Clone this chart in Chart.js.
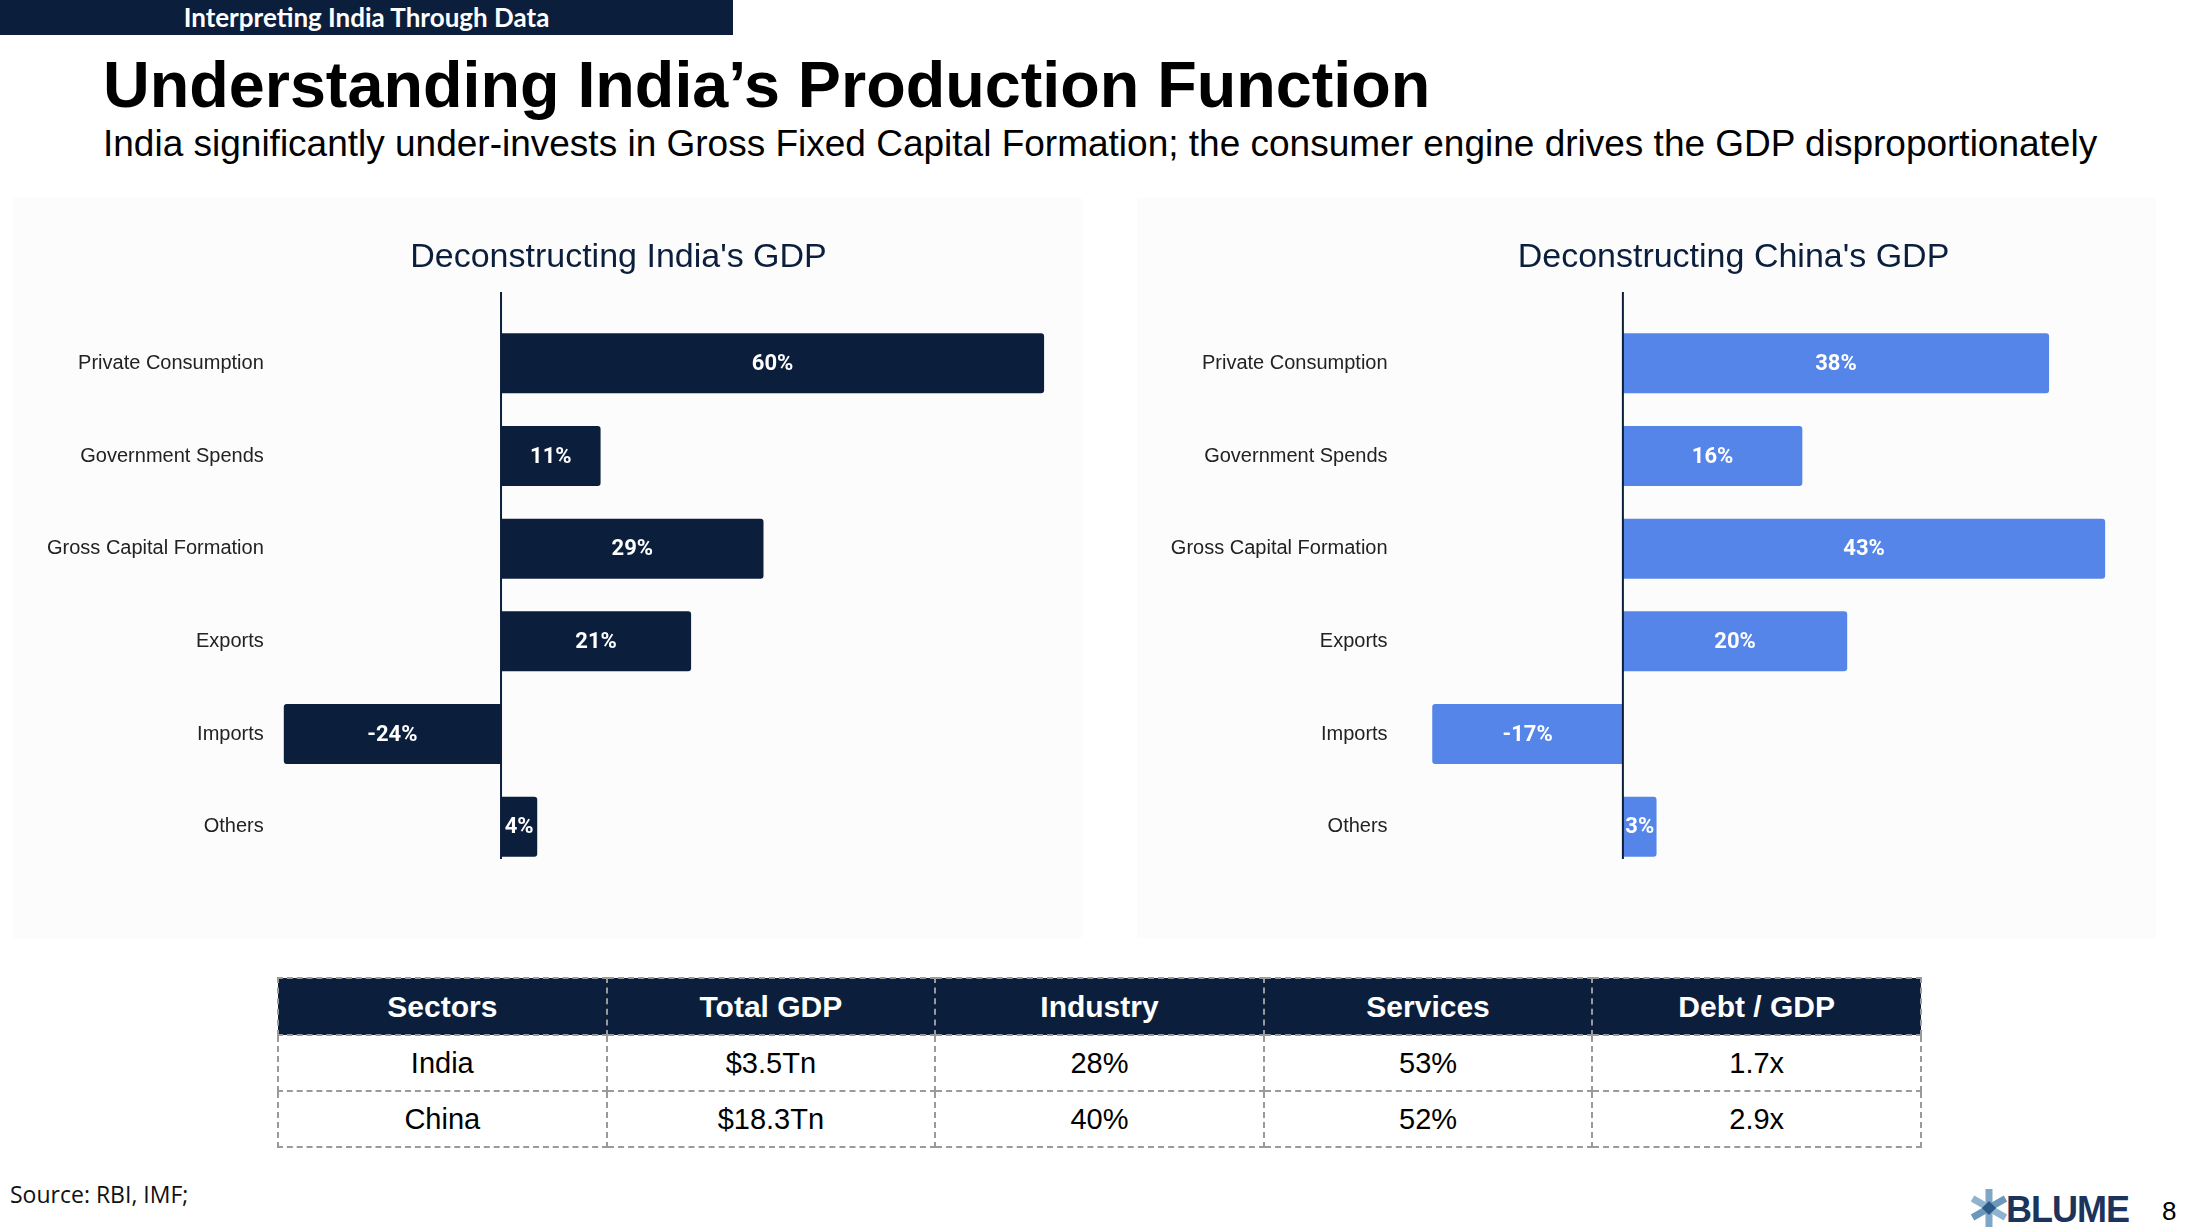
<!DOCTYPE html>
<html>
<head>
<title>Understanding India's Production Function</title>
<script src="https://cdn.jsdelivr.net/npm/chart.js@4.4.0/dist/chart.umd.min.js"></script>
<style>
    body { margin: 0; width: 2202px; height: 1228px; overflow: hidden; background: #fff; position: relative; font-family: "Liberation Sans", Arial, sans-serif; }
    .banner { position: absolute; left: 0; top: 0; width: 733px; height: 35px; background: #0b1f3d; color: #fff; font: bold 26px Lato, sans-serif; text-align: center; line-height: 35px; }
    .headline { position: absolute; left: 103px; top: 52px; font: bold 64.7px "Liberation Sans", Arial, sans-serif; line-height: 65px; color: #000; white-space: nowrap; }
    .subline { position: absolute; left: 103px; top: 125px; font: 37px "Liberation Sans", Arial, sans-serif; line-height: 37px; color: #000; white-space: nowrap; }
    .panel { position: absolute; top: 198px; height: 740px; background: #fcfcfc; }
    .box { position: absolute; top: 198px; height: 740px; }
    table { position: absolute; left: 277px; top: 977px; width: 1645px; border-collapse: collapse; table-layout: fixed; }
    th, td { border: 2px dashed #9a9a9a; text-align: center; padding: 0; }
    th { background: #0b1f3d; color: #fff; font: bold 30px "Liberation Sans", Arial, sans-serif; height: 55px; }
    td { color: #000; font: 29px "Liberation Sans", Arial, sans-serif; height: 54px; }
    .source { position: absolute; left: 10px; top: 1178px; font: 23px "Open Sans", sans-serif; color: #111; }
    .logo { position: absolute; left: 1970px; top: 1188px; height: 40px; }
    .logo span { position: absolute; left: 36px; top: 1px; font: bold 36px "Liberation Sans", Arial, sans-serif; color: #1c335c; letter-spacing: -1px; }
    .page { position: absolute; left: 2162px; top: 1196px; font: 26px "Liberation Sans", Arial, sans-serif; color: #000; }
</style>
</head>
<body>
    <div class="banner">Interpreting India Through Data</div>
    <div class="headline">Understanding India’s Production Function</div>
    <div class="subline">India significantly under-invests in Gross Fixed Capital Formation; the consumer engine drives the GDP disproportionately</div>

    <div class="panel" style="left:13px; width:1069px;"></div>
    <div class="panel" style="left:1137px; width:1019px;"></div>

    <div class="box" style="left:30px; width:1177px;"><canvas id="india-chart"></canvas></div>
    <div class="box" style="left:1160px; width:1147px;"><canvas id="china-chart"></canvas></div>

    <table id="gdp-table"></table>

    <div class="source">Source: RBI, IMF;</div>
    <div class="logo">
        <svg width="38" height="40" viewBox="0 0 38 40">
            <g transform="translate(19,20)">
                <rect x="-3.5" y="-19" width="7" height="38" fill="#7fa6c4" />
                <rect x="-3.5" y="-19" width="7" height="38" fill="#6b97bb" transform="rotate(60)" />
                <rect x="-3.5" y="-19" width="7" height="38" fill="#8fb3cf" transform="rotate(-60)" />
                <rect x="-5" y="-5" width="10" height="10" fill="#2c5a88" transform="rotate(45)" />
            </g>
        </svg>
        <span>BLUME</span>
    </div>
    <div class="page">8</div>

    <script>
        // composantes du PIB (% du PIB)
        var categories = ['Private Consumption', 'Government Spends', 'Gross Capital Formation', 'Exports', 'Imports', 'Others'];
        var indiaValues = [60, 11, 29, 21, -24, 4];
        var chinaValues = [38, 16, 43, 20, -17, 3];

        // tableau du bas
        var tableHeaders = ['Sectors', 'Total GDP', 'Industry', 'Services', 'Debt / GDP'];
        var indiaRow = ['India', '$3.5Tn', '28%', '53%', '1.7x'];
        var chinaRow = ['China', '$18.3Tn', '40%', '52%', '2.9x'];

        var navy = '#0b1f3d';

        // ligne verticale au zéro
        var zeroLine = {
            id: 'zeroLine',
            afterDatasetsDraw: function(chart) {
                var x = chart.scales.x.getPixelForValue(0);
                var a = chart.chartArea;
                var ctx = chart.ctx;
                ctx.save();
                ctx.strokeStyle = navy;
                ctx.lineWidth = 2;
                ctx.beginPath();
                ctx.moveTo(x, a.top - 25);
                ctx.lineTo(x, a.bottom - 14);
                ctx.stroke();
                ctx.restore();
            }
        };

        // étiquettes blanches au centre des barres
        var barLabels = {
            id: 'barLabels',
            afterDatasetsDraw: function(chart) {
                var ctx = chart.ctx;
                var data = chart.data.datasets[0].data;
                ctx.save();
                ctx.fillStyle = '#fff';
                ctx.font = 'bold 22px Roboto';
                ctx.textAlign = 'center';
                ctx.textBaseline = 'middle';
                chart.getDatasetMeta(0).data.forEach(function(bar, i) {
                    ctx.fillText(data[i] + '%', (bar.x + bar.base) / 2, bar.y + 1);
                });
                ctx.restore();
            }
        };

        function makeChart(id, title, values, color, xmin, xmax, axisWidth) {
            var ctx = document.getElementById(id).getContext('2d');
            return new Chart(ctx, {
                type: 'bar',
                data: {
                    labels: categories,
                    datasets: [{
                        data: values,
                        backgroundColor: color,
                        borderRadius: 3,
                        barPercentage: 0.72,
                        categoryPercentage: 0.9
                    }]
                },
                plugins: [zeroLine, barLabels],
                options: {
                    indexAxis: 'y',
                    responsive: true,
                    maintainAspectRatio: false,
                    animation: false,
                    layout: { padding: { top: 0, right: 0, bottom: 65, left: 0 } },
                    plugins: {
                        legend: { display: false },
                        tooltip: { enabled: false },
                        title: {
                            display: true,
                            text: title,
                            color: navy,
                            font: { family: 'Liberation Sans', size: 34, weight: 'normal' },
                            padding: { top: 39, bottom: 39.2 }
                        }
                    },
                    scales: {
                        x: { display: false, min: xmin, max: xmax },
                        y: {
                            grid: { display: false, drawTicks: false },
                            border: { display: false },
                            ticks: { color: '#222', font: { family: 'Liberation Sans', size: 20 }, padding: 11 },
                            afterFit: function(axis) { axis.width = axisWidth; }
                        }
                    }
                }
            });
        }

        makeChart('india-chart', "Deconstructing India's GDP", indiaValues, navy, -25, 78, 244.75);
        makeChart('china-chart', "Deconstructing China's GDP", chinaValues, '#5585e8', -20, 61, 238.6);

        // construction du tableau
        var table = document.getElementById('gdp-table');
        var html = '<tr>' + tableHeaders.map(function(h) { return '<th>' + h + '</th>'; }).join('') + '</tr>';
        [indiaRow, chinaRow].forEach(function(row) {
            html += '<tr>' + row.map(function(c) { return '<td>' + c + '</td>'; }).join('') + '</tr>';
        });
        table.innerHTML = html;
    </script>
</body>
</html>
